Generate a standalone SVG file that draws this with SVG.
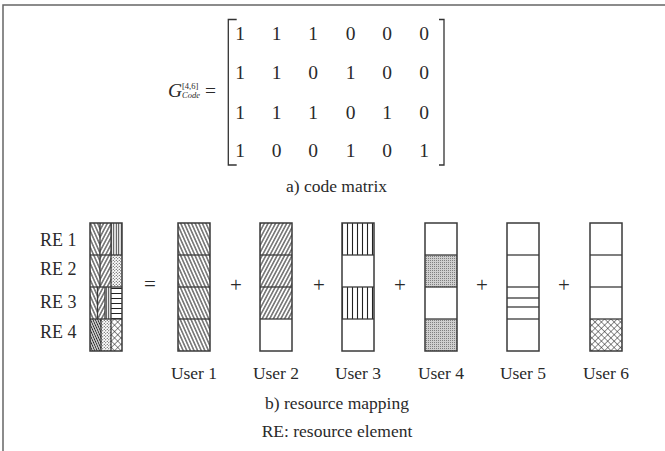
<svg xmlns="http://www.w3.org/2000/svg" width="665" height="451" viewBox="0 0 665 451">
<style>
text{font-family:"Liberation Serif","Times New Roman",serif;fill:#2a2a2a}
.lbl{font-size:18px}
.num{font-size:19.5px;text-anchor:middle}
.cap{font-size:17.5px;text-anchor:middle}
.op{font-size:21px;text-anchor:middle}
.col{fill:none;stroke:#3a3a3a;stroke-width:1.5}
.div{stroke:#3a3a3a;stroke-width:1.3}
.frame{stroke:#666;stroke-width:1.5;fill:none}
</style>
<defs>
<pattern id="bs" patternUnits="userSpaceOnUse" width="3.3" height="10" patternTransform="rotate(-24)"><rect width="3.3" height="10" fill="#fff"/><line x1="1.65" y1="0" x2="1.65" y2="10" stroke="#222" stroke-width="1"/></pattern>
<pattern id="fs" patternUnits="userSpaceOnUse" width="3.3" height="10" patternTransform="rotate(28)"><rect width="3.3" height="10" fill="#fff"/><line x1="1.65" y1="0" x2="1.65" y2="10" stroke="#222" stroke-width="1"/></pattern>
<pattern id="bsd" patternUnits="userSpaceOnUse" width="2.2" height="10" patternTransform="rotate(-24)"><rect width="2.2" height="10" fill="#fff"/><line x1="1.1" y1="0" x2="1.1" y2="10" stroke="#222" stroke-width="1.1"/></pattern>
<pattern id="vt" patternUnits="userSpaceOnUse" width="5" height="10"><rect width="5" height="10" fill="#fff"/><line x1="2.5" y1="0" x2="2.5" y2="10" stroke="#222" stroke-width="1.1"/></pattern>
<pattern id="vt2" patternUnits="userSpaceOnUse" width="2.5" height="10"><rect width="2.5" height="10" fill="#fff"/><line x1="1.25" y1="0" x2="1.25" y2="10" stroke="#333" stroke-width="1"/></pattern>
<pattern id="hz" patternUnits="userSpaceOnUse" width="10" height="5" y="1"><rect width="10" height="5" fill="#fff"/><line x1="0" y1="2.5" x2="10" y2="2.5" stroke="#222" stroke-width="1"/></pattern>
<pattern id="gd" patternUnits="userSpaceOnUse" width="2" height="2"><rect width="2" height="2" fill="#cfcfcf"/><rect width="1" height="1" fill="#808080"/></pattern>
<pattern id="sd" patternUnits="userSpaceOnUse" width="3" height="3"><rect width="3" height="3" fill="#fff"/><circle cx="0.75" cy="0.75" r="0.55" fill="#222"/><circle cx="2.25" cy="2.25" r="0.55" fill="#222"/></pattern>
<pattern id="xh" patternUnits="userSpaceOnUse" width="4.5" height="4.5" patternTransform="rotate(45)"><rect width="4.5" height="4.5" fill="#fff"/><line x1="0" y1="0" x2="4.5" y2="0" stroke="#222" stroke-width="1"/><line x1="0" y1="0" x2="0" y2="4.5" stroke="#222" stroke-width="1"/></pattern>
</defs>

<g id="frame">
<path class="frame" d="M3 451 V5 H665"/>
</g>

<g id="matrix">
<text x="168" y="97" style="font-size:19.5px;font-style:italic">G</text>
<text x="182" y="89" style="font-size:8.5px">[4,6]</text>
<text x="182" y="98" style="font-size:8.5px;font-style:italic">Code</text>
<text x="205" y="97" style="font-size:19.5px">=</text>
<path d="M236.7 19.5 H228.3 V165 H236.7" fill="none" stroke="#333" stroke-width="1.3"/>
<path d="M439 19.5 H444 V165 H439" fill="none" stroke="#333" stroke-width="1.3"/>
<g class="row1">
<text class="num" x="240" y="40">1</text><text class="num" x="276.5" y="40">1</text><text class="num" x="313" y="40">1</text><text class="num" x="350.5" y="40">0</text><text class="num" x="387" y="40">0</text><text class="num" x="424" y="40">0</text>
</g>
<g class="row2">
<text class="num" x="240" y="79">1</text><text class="num" x="276.5" y="79">1</text><text class="num" x="313" y="79">0</text><text class="num" x="350.5" y="79">1</text><text class="num" x="387" y="79">0</text><text class="num" x="424" y="79">0</text>
</g>
<g class="row3">
<text class="num" x="240" y="118.5">1</text><text class="num" x="276.5" y="118.5">1</text><text class="num" x="313" y="118.5">1</text><text class="num" x="350.5" y="118.5">0</text><text class="num" x="387" y="118.5">1</text><text class="num" x="424" y="118.5">0</text>
</g>
<g class="row4">
<text class="num" x="240" y="157">1</text><text class="num" x="276.5" y="157">0</text><text class="num" x="313" y="157">0</text><text class="num" x="350.5" y="157">1</text><text class="num" x="387" y="157">0</text><text class="num" x="424" y="157">1</text>
</g>
<text class="cap" x="336.5" y="192">a) code matrix</text>
</g>

<g id="re-labels">
<text class="lbl" x="40" y="246">RE 1</text>
<text class="lbl" x="40" y="275">RE 2</text>
<text class="lbl" x="40" y="308">RE 3</text>
<text class="lbl" x="40" y="338">RE 4</text>
</g>

<g id="combined">
<rect x="90" y="223" width="10" height="32" fill="url(#bs)"/>
<rect x="100" y="223" width="11" height="32" fill="url(#fs)"/>
<rect x="111" y="223" width="11" height="32" fill="url(#vt2)"/>
<rect x="90" y="255" width="10" height="32" fill="url(#bs)"/>
<rect x="100" y="255" width="11" height="32" fill="url(#fs)"/>
<rect x="111" y="255" width="11" height="32" fill="url(#sd)"/>
<rect x="90" y="287" width="7.5" height="32" fill="url(#bs)"/>
<rect x="97.5" y="287" width="7.5" height="32" fill="url(#fs)"/>
<rect x="105" y="287" width="6" height="32" fill="url(#vt2)"/>
<rect x="111" y="287" width="11" height="32" fill="url(#hz)"/>
<rect x="90" y="319" width="11" height="32" fill="url(#bsd)"/>
<rect x="101" y="319" width="10" height="32" fill="url(#sd)"/>
<rect x="111" y="319" width="11" height="32" fill="url(#xh)"/>
<g class="div">
<line x1="90" y1="255" x2="122" y2="255"/><line x1="90" y1="287" x2="122" y2="287"/><line x1="90" y1="319" x2="122" y2="319"/>
<line x1="100" y1="223" x2="100" y2="287"/><line x1="111" y1="223" x2="111" y2="351"/>
<line x1="97.5" y1="287" x2="97.5" y2="319"/><line x1="105" y1="287" x2="105" y2="319"/>
<line x1="101" y1="319" x2="101" y2="351"/>
</g>
<rect class="col" x="90" y="223" width="32" height="128"/>
</g>

<g id="operators">
<text x="150" y="291" class="op">=</text>
<text x="236" y="292" class="op">+</text>
<text x="319" y="292" class="op">+</text>
<text x="400" y="292" class="op">+</text>
<text x="482" y="292" class="op">+</text>
<text x="564" y="292" class="op">+</text>
</g>

<g id="user1">
<rect x="178" y="223" width="32" height="128" fill="url(#bs)"/>
<g class="div"><line x1="178" y1="255" x2="210" y2="255"/><line x1="178" y1="287" x2="210" y2="287"/><line x1="178" y1="319" x2="210" y2="319"/></g>
<rect class="col" x="178" y="223" width="32" height="128"/>
<text class="cap" x="194" y="379">User 1</text>
</g>

<g id="user2">
<rect x="260" y="223" width="32" height="96" fill="url(#fs)"/>
<g class="div"><line x1="260" y1="255" x2="292" y2="255"/><line x1="260" y1="287" x2="292" y2="287"/><line x1="260" y1="319" x2="292" y2="319"/></g>
<rect class="col" x="260" y="223" width="32" height="128"/>
<text class="cap" x="276" y="379">User 2</text>
</g>

<g id="user3">
<rect x="342" y="223" width="32" height="32" fill="url(#vt)"/>
<rect x="342" y="287" width="32" height="32" fill="url(#vt)"/>
<g class="div"><line x1="342" y1="255" x2="374" y2="255"/><line x1="342" y1="287" x2="374" y2="287"/><line x1="342" y1="319" x2="374" y2="319"/></g>
<rect class="col" x="342" y="223" width="32" height="128"/>
<text class="cap" x="358" y="379">User 3</text>
</g>

<g id="user4">
<rect x="425" y="255" width="32" height="32" fill="url(#gd)"/>
<rect x="425" y="319" width="32" height="32" fill="url(#gd)"/>
<g class="div"><line x1="425" y1="255" x2="457" y2="255"/><line x1="425" y1="287" x2="457" y2="287"/><line x1="425" y1="319" x2="457" y2="319"/></g>
<rect class="col" x="425" y="223" width="32" height="128"/>
<text class="cap" x="441" y="379">User 4</text>
</g>

<g id="user5">
<g class="div"><line x1="507" y1="255" x2="539" y2="255"/><line x1="507" y1="287" x2="539" y2="287"/><line x1="507" y1="298" x2="539" y2="298"/><line x1="507" y1="307" x2="539" y2="307"/><line x1="507" y1="319" x2="539" y2="319"/></g>
<rect class="col" x="507" y="223" width="32" height="128"/>
<text class="cap" x="523" y="379">User 5</text>
</g>

<g id="user6">
<rect x="590" y="319" width="32" height="32" fill="url(#xh)"/>
<g class="div"><line x1="590" y1="255" x2="622" y2="255"/><line x1="590" y1="287" x2="622" y2="287"/><line x1="590" y1="319" x2="622" y2="319"/></g>
<rect class="col" x="590" y="223" width="32" height="128"/>
<text class="cap" x="606" y="379">User 6</text>
</g>

<g id="captions">
<text class="cap" x="337" y="409">b) resource mapping</text>
<text class="cap" x="337" y="437">RE: resource element</text>
</g>
</svg>
